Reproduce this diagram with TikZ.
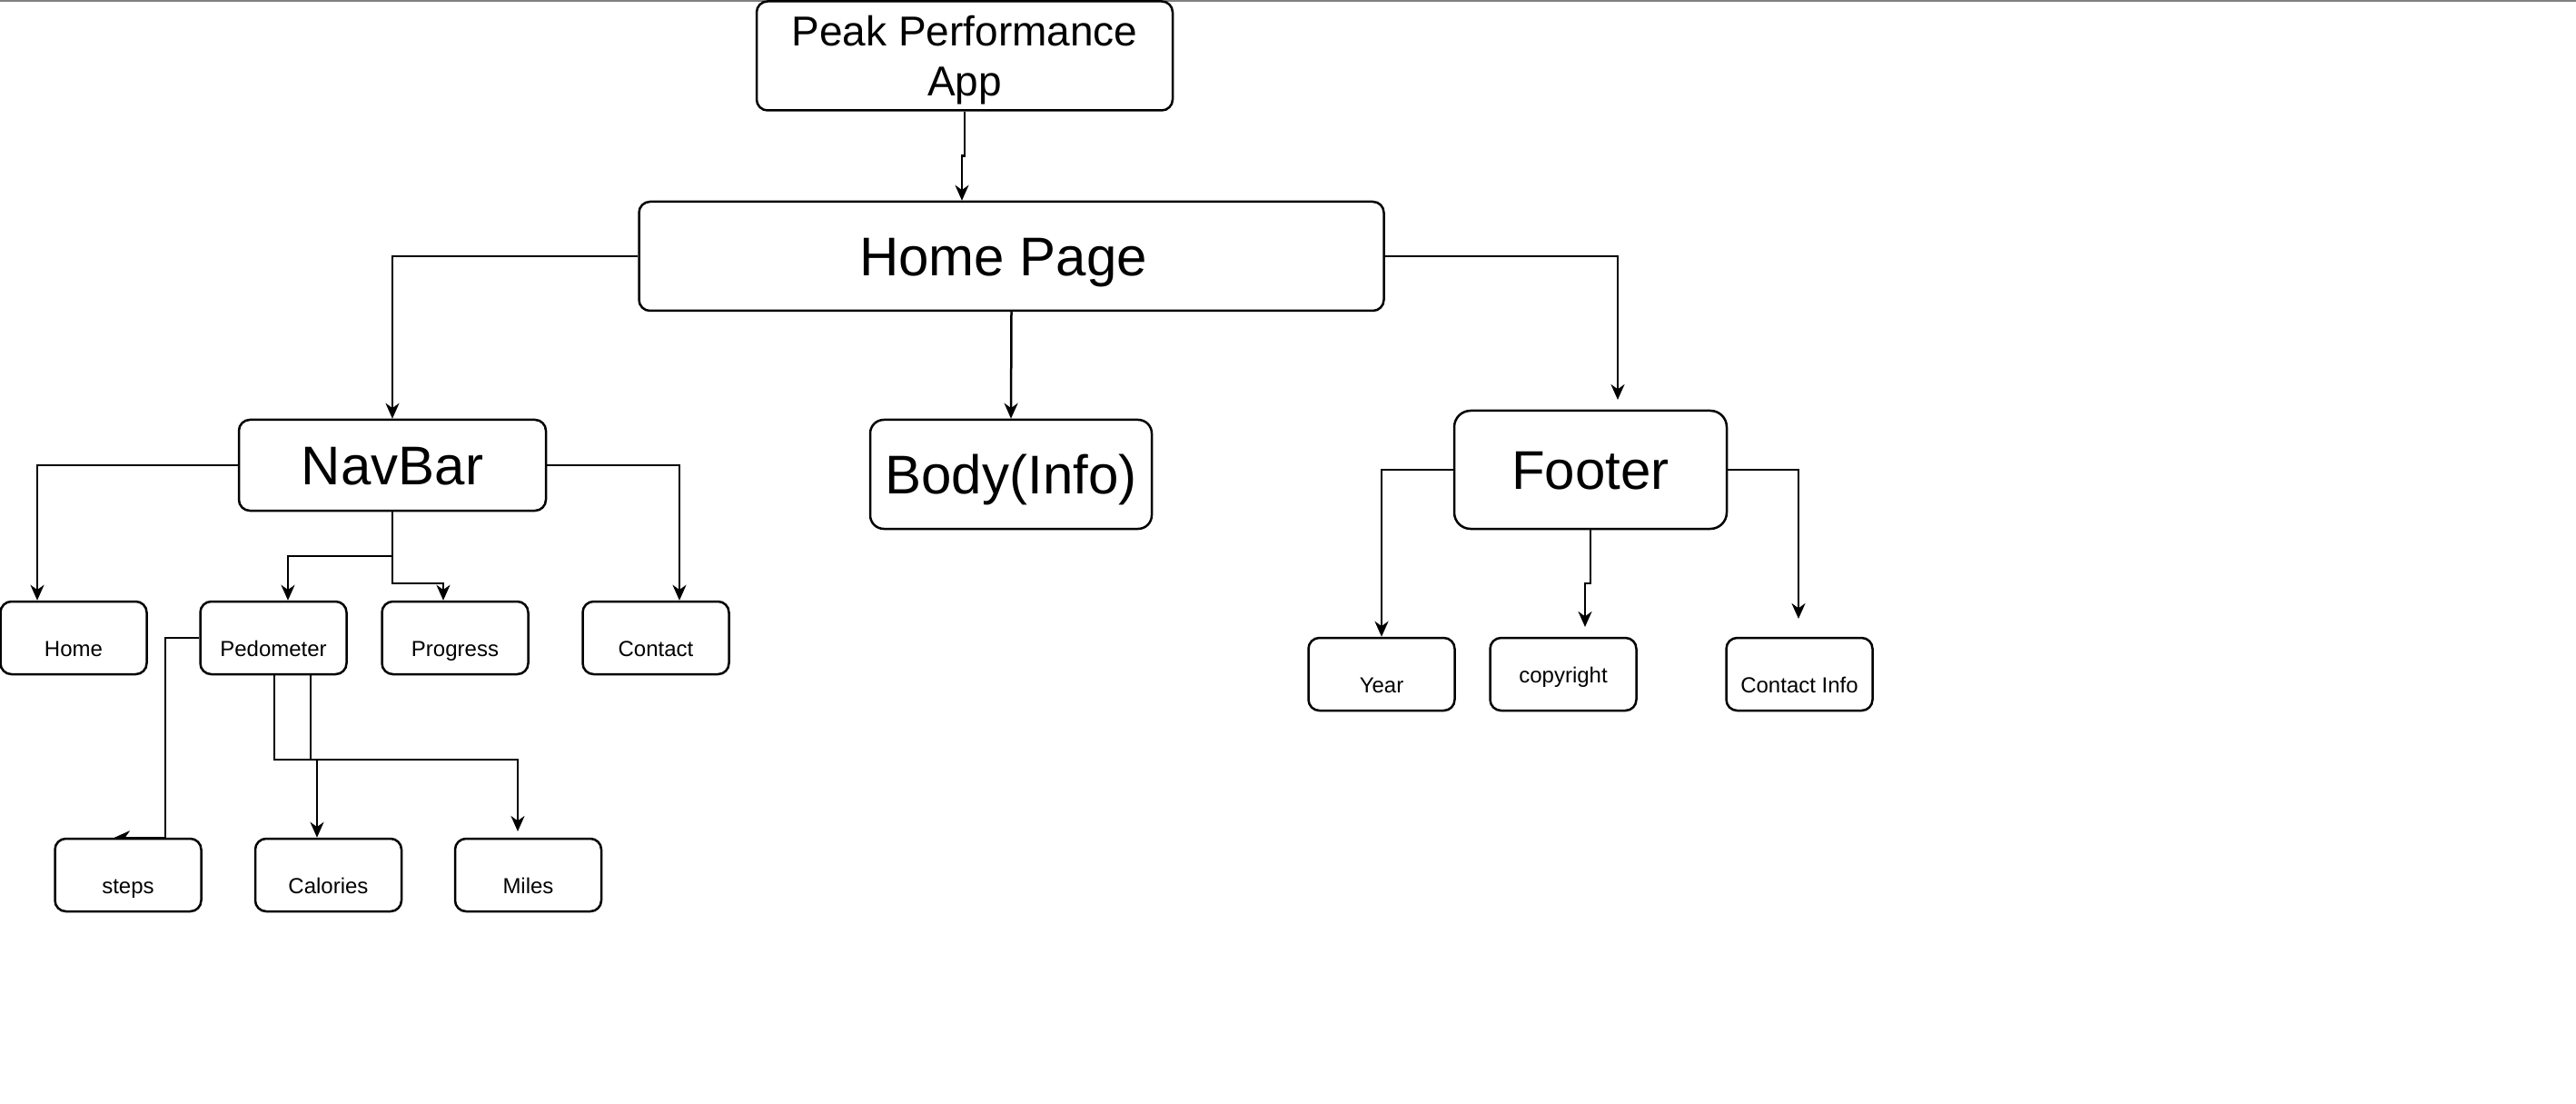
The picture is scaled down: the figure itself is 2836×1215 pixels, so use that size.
\documentclass[tikz,border=0pt]{standalone}
\usepackage{fontspec}
\setmainfont{Liberation Sans}
\usetikzlibrary{arrows.meta,backgrounds}
\begin{document}
\begin{tikzpicture}[x=0.3pt,y=-0.3pt,
  box/.style={draw, line width=0.75pt, fill=white, rounded corners=3.6pt, inner sep=0pt},
  big/.style={box, font=\fontsize{18pt}{21pt}\selectfont, text height=12.9pt, text depth=0pt},
  title/.style={box, align=center, font=\fontsize{13.8pt}{16.5pt}\selectfont, text depth=0pt},
  small/.style={box, minimum width=48.3pt, minimum height=24pt, font=\fontsize{7.2pt}{8.6pt}\selectfont, text height=12pt, text depth=0pt},
  arr/.style={line width=0.75pt, -{Stealth[length=5.1pt,width=4.5pt,inset=1.6pt]}},
  ln/.style={line width=0.75pt}]
\useasboundingbox (0,0) rectangle (2836,1215);
\draw[gray, line width=0.6pt] (0,1) -- (2836,1);

% main nodes
\node[title, minimum width=137.4pt, minimum height=36pt] (peak) at (1062,61.5) {Peak Performance\\App};
\node[big, minimum width=246pt, minimum height=36pt] (hp) at (1113.5,282) {\hspace*{-5.4pt}Home Page};
\node[big, minimum width=101.4pt, minimum height=30pt] (nav) at (432,512) {NavBar};
\node[big, minimum width=93pt, minimum height=36pt, rounded corners=4.5pt] (body) at (1113,522) {Body(Info)};
\node[big, minimum width=90pt, minimum height=39pt, rounded corners=5.4pt] (footer) at (1751,517) {Footer};

% navbar children
\node[small] (hm) at (81,702) {Home};
\node[small] (ped) at (301,702) {Pedometer};
\node[small] (prog) at (501,702) {Progress};
\node[small] (cont) at (722,702) {Contact};

% pedometer children
\node[small] (steps) at (141,963) {steps};
\node[small] (cal) at (361.5,963) {Calories};
\node[small] (miles) at (581.5,963) {Miles};

% footer children
\node[small] (year) at (1521,742) {Year};
\node[small, text height=5.6pt] (copy) at (1721,742) {copyright};
\node[small] (cinfo) at (1981,742) {Contact Info};

\begin{scope}[on background layer]
\draw[arr] (peak.south) -- (peak.south |- 0,171.5) -- (1059,171.5) -- (1059,0 |- hp.north);
\draw[arr] (hp.west) -| (nav.north);
\draw[arr] (hp.south) -- (body.north);
\coordinate (fin) at (1781,440);
\draw[arr] (hp.east) -| (fin);

\draw[arr] (nav.west) -| (41,0 |- hm.north);
\draw[arr] (nav.south) -- (nav.south |- 0,612) -| (317,0 |- ped.north);
\draw[arr] (nav.south) -- (nav.south |- 0,642) -| (488,0 |- prog.north);
\draw[arr] (nav.east) -| (748,0 |- cont.north);

\draw[arr] (ped.west) -| (182,0 |- steps.north) -- (126,0 |- steps.north);
\draw[arr] (302,0 |- ped.south) -- (302,836) -| (349,0 |- cal.north);
\coordinate (min) at (570,915);
\draw[arr] (342,0 |- ped.south) -- (342,836) -| (min);

\draw[arr] (footer.west) -| (year.north);
\coordinate (cin) at (1745,690);
\draw[arr] (footer.south) -- (footer.south |- 0,642) -| (cin);
\coordinate (ciin) at (1980,681);
\draw[arr] (footer.east) -| (ciin);
\end{scope}
\end{tikzpicture}
\end{document}
